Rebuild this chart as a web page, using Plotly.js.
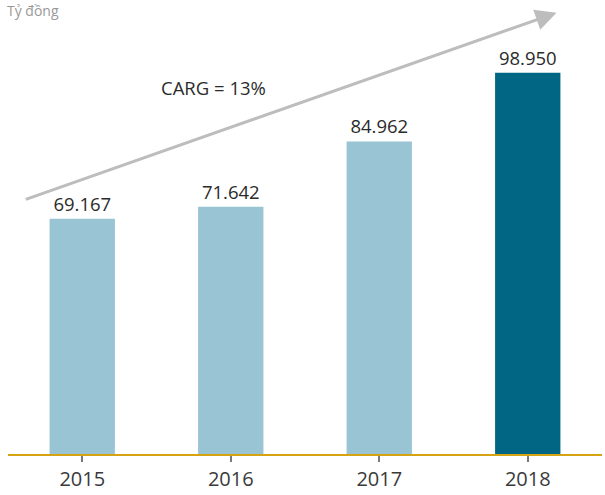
<!DOCTYPE html>
<html><head><meta charset="utf-8">
<script src="https://cdn.plot.ly/plotly-3.0.1.min.js"></script>
<style>html,body{margin:0;padding:0;background:#fff}#c{width:605px;height:495px}</style>
</head><body><div id="c"></div>
<script>
const years = ['2015','2016','2017','2018'];
const values = [69.167, 71.642, 84.962, 98.950];
const labels = ['69.167','71.642','84.962','98.950'];
const barColors = ['#98c4d4','#98c4d4','#98c4d4','#006684'];
const unitLabel = 'Tỷ đồng';
const cagrLabel = 'CARG = 13%';

const FONT = 'Open Sans, Lato, sans-serif';
const trace = {
  type: 'bar', x: years, y: values, text: labels,
  textposition: 'outside', cliponaxis: false,
  textfont: {family: FONT, size: 18.5, color: '#2b2b2b'},
  marker: {color: barColors}, width: 0.44, hoverinfo: 'none'
};
const layout = {
  width: 605, height: 495,
  margin: {l: 8, r: 3, t: 0, b: 41},
  paper_bgcolor: '#fff', plot_bgcolor: '#fff',
  showlegend: false,
  xaxis: {type: 'category', range: [-0.5, 3.5], showline: true, linecolor: '#d6a312', linewidth: 2,
    ticks: 'outside', ticklen: 6, tickwidth: 2, tickcolor: '#7a7a7a',
    tickfont: {family: FONT, size: 20, color: '#3a3a3a'}, showgrid: false, zeroline: false, fixedrange: true},
  yaxis: {range: [21.2, 113.8], visible: false, showgrid: false, zeroline: false, fixedrange: true},
  annotations: [
    {x: 3.194, y: 111.19, ax: -0.39, ay: 73.04, xref: 'x', yref: 'y', axref: 'x', ayref: 'y',
     showarrow: true, arrowhead: 2, arrowsize: 1.4, arrowwidth: 3, arrowcolor: '#bdbdbd', text: ''},
    {x: 0.887, y: 95.9, xref: 'x', yref: 'y', text: cagrLabel, showarrow: false,
     font: {family: FONT, size: 18.5, color: '#2b2b2b'}},
    {x: -0.003, y: 1.0, xref: 'paper', yref: 'paper', xanchor: 'left', yanchor: 'top', text: unitLabel,
     showarrow: false, borderpad: 0, font: {family: FONT, size: 14, color: '#999'}}
  ]
};
Plotly.newPlot('c', [trace], layout, {displayModeBar: false, staticPlot: true});
</script></body></html>
